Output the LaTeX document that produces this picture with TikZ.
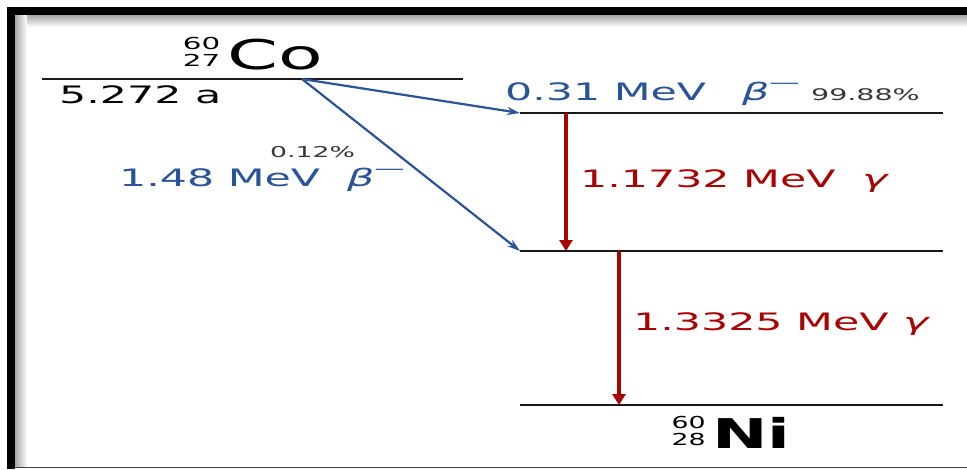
\documentclass[tikz,border=0pt]{standalone}
\usepackage{fontspec}
\setmainfont{DejaVu Sans}
\usepackage{graphicx}
\usepackage{tikz}
\usetikzlibrary{arrows.meta, positioning}

\definecolor{betablue}{RGB}{42,84,152}
\definecolor{gammared}{RGB}{168,4,4}
\definecolor{pctgray}{RGB}{55,55,55}

\newcommand{\wideText}[1]{\scalebox{1.78}[1]{#1}}
\newcommand{\bigtext}{\fontsize{41}{45}\selectfont}
\newcommand{\medtext}{\fontsize{24}{28}\selectfont}
\newcommand{\smalltext}{\fontsize{16}{18}\selectfont}
\newcommand{\isotope}[3]{\raisebox{3pt}{\fontsize{16.5}{16.5}\selectfont\mdseries\shortstack[r]{#1\\[1pt]#2}}\hspace{4pt}#3}
\newcommand{\betaminus}{\textit{β}\raisebox{0.48em}{\fontsize{17}{17}\selectfont —}}

\begin{document}
\begin{tikzpicture}[x=1pt, y=-1pt,
  level/.style={line width=2.2pt, black!90},
  betaline/.style={draw=betablue, line width=2.2pt, -{Stealth[length=13pt, width=8pt]}},
  gammaline/.style={draw=gammared, line width=3.6pt, -{Triangle[length=11pt, width=13pt]}},
  txt/.style={inner sep=0pt, anchor=base west}]
\useasboundingbox (0,0) rectangle (967,469);
\fill[white] (0,0) rectangle (967,469);
\shade[top color=black!35, bottom color=white] (15,15) rectangle (967,27);
\shade[left color=black!35, right color=white] (15,15) rectangle (27,466);
\fill[black] (7,7) rectangle (967,15);
\fill[black] (7,7) rectangle (15,469);
\draw[line width=1.5pt, black!75] (15,467.5) -- (967,467.5);

\coordinate (coL) at (42,79);
\coordinate (coR) at (463,79);
\coordinate (coX) at (302,79);
\coordinate (e1L) at (520,113);
\coordinate (e1R) at (943,113);
\coordinate (e2L) at (520,251);
\coordinate (e2R) at (943,251);
\coordinate (e0L) at (520,405);
\coordinate (e0R) at (943,405);
\coordinate (g1) at (566,113);
\coordinate (g2) at (619,251);

\draw[level] (coL) -- (coR);
\draw[level] (e1L) -- (e1R);
\draw[level] (e2L) -- (e2R);
\draw[level] (e0L) -- (e0R);

\draw[betaline] (coX) -- (e1L);
\draw[betaline] (coX) -- (e2L);
\draw[gammaline] (g1) -- (g1 |- e2L);
\draw[gammaline] (g2) -- (g2 |- e0L);

\node[inner sep=0pt, anchor=base] (colabel) at (253,69) {\wideText{\bigtext\isotope{60}{27}{Co}}};
\node[txt] (cohalf) at (59,103) {\wideText{\medtext 5.272 a}};
\node[txt, text=betablue] (b1energy) at (505,100) {\wideText{\medtext 0.31 MeV}};
\node[txt, text=betablue] (b1sym) at (742,100) {\wideText{\medtext\betaminus}};
\node[txt, text=pctgray] (b1pct) at (811,100) {\wideText{\smalltext 99.88\%}};
\node[txt, text=pctgray] (b2pct) at (270,157) {\wideText{\fontsize{15}{17}\selectfont 0.12\%}};
\node[txt, text=betablue] (b2energy) at (119,186) {\wideText{\medtext 1.48 MeV}};
\node[txt, text=betablue] (b2sym) at (347,186) {\wideText{\medtext\betaminus}};
\node[txt, text=gammared] (g1energy) at (580,187) {\wideText{\medtext 1.1732 MeV}};
\node[txt, text=gammared] (g1sym) at (862,187) {\wideText{\medtext\textit{γ}}};
\node[txt, text=gammared] (g2energy) at (633,330) {\wideText{\medtext 1.3325 MeV}};
\node[txt, text=gammared] (g2sym) at (903,330) {\wideText{\medtext\textit{γ}}};
\node[inner sep=0pt, anchor=base] (nilabel) at (731,448) {\scalebox{1.62}[1]{\bigtext\isotope{60}{28}{\bfseries Ni}}};
\end{tikzpicture}
\end{document}
